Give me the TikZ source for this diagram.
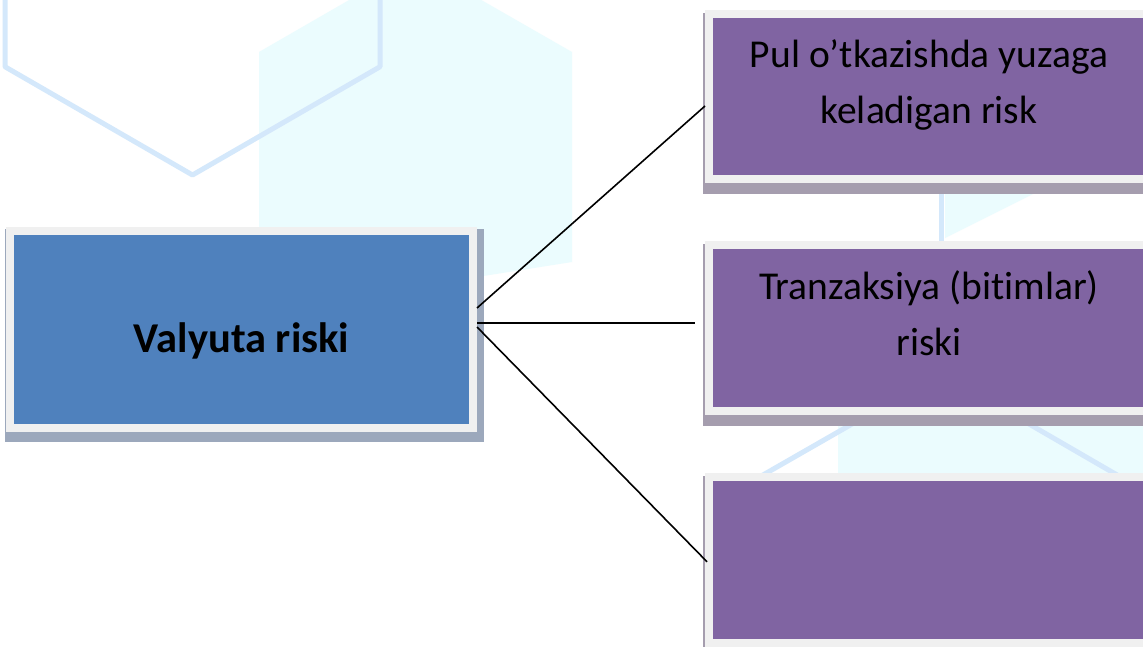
\documentclass[tikz,border=0pt]{standalone}
\usepackage{fontspec}
\setmainfont{Carlito}[Ligatures=NoCommon]
\usetikzlibrary{calc}
\definecolor{boxblue}{HTML}{4F81BD}
\definecolor{boxpurple}{HTML}{8064A2}
\definecolor{rimgray}{HTML}{F0F0F0}
\definecolor{shadeblue}{HTML}{9CA8BC}
\definecolor{shadepurple}{HTML}{A59DAE}
\definecolor{hexline}{HTML}{D4E8FB}
\definecolor{hexfill}{HTML}{EBFCFE}
\pgfdeclarelayer{deco}
\pgfdeclarelayer{shade}
\pgfsetlayers{deco,shade,main}
\begin{document}
\begin{tikzpicture}[x=1pt,y=-1pt,
  rimbox/.style={draw=rimgray, line width=8pt, inner sep=0pt},
  mainbox/.style={rimbox, fill=boxblue, minimum width=463pt, minimum height=197pt,
    font=\fontsize{42.5}{50}\selectfont\bfseries, text height=45pt, text depth=0pt},
  riskbox/.style={rimbox, fill=boxpurple, minimum width=440pt, minimum height=165.5pt,
    align=center, font=\fontsize{39.5}{56}\selectfont, text height=64pt, text depth=9pt},
  link/.style={draw=black, line width=1.6pt},
  hexedge/.style={draw=hexline, line width=5pt, line join=round},
  hexarea/.style={fill=hexfill},
]
\useasboundingbox (0,0) rectangle (1143,646);

% main nodes
\node[mainbox] (val) at (241.5,329.5) {Valyuta riski};
\node[riskbox] (r1) at (929,96.25) {Pul o’tkazishda yuzaga\\keladigan risk};
\node[riskbox] (r2) at (929,328) {Tranzaksiya (bitimlar)\\riski};
\node[riskbox] (r3) at (929,559.75) {};

% shadows
\begin{pgfonlayer}{shade}
  \fill[shadeblue] ($(val.north west)+(-1,2)$) rectangle ($(val.south east)+(7,10)$);
  \foreach \b in {r1,r2,r3}
    \fill[shadepurple] ($(\b.north west)+(-2,3)$) rectangle ($(\b.south east)+(6,11)$);
\end{pgfonlayer}

% background hexagon pattern
\begin{pgfonlayer}{deco}
  \fill[white] (0,0) rectangle (1143,646);
  \fill[hexarea] (415,-38) -- (572,52) -- (572,262) -- (477,277) -- (259,277) -- (259,52) -- cycle;
  \fill[hexarea] (945,100) -- (945,238) -- (1143,139) -- (1143,100) -- cycle;
  \fill[hexarea] (838,380) rectangle (1143,480);
  \draw[hexedge] (5,-10) -- (5,66.75) -- (192.5,175) -- (380,66.75) -- (380,-10);
  \draw[hexedge] (752.5,49) -- (941,157) -- (1127.5,49);
  \draw[hexedge] (941,157) -- (941,373);
  \draw[hexedge] (752.5,481) -- (941,373) -- (1127.5,481);
\end{pgfonlayer}

% connectors
\draw[link] ($(val.east)+(0,-21.5)$) -- ($(r1.west)+(0,9.75)$);
\draw[link] ($(val.east)+(0,-6.5)$) -- ($(r2.west)+(-10,-5)$);
\draw[link] ($(val.east)+(0,-2.5)$) -- ($(r3.west)+(2,2)$);
\end{tikzpicture}
\end{document}
